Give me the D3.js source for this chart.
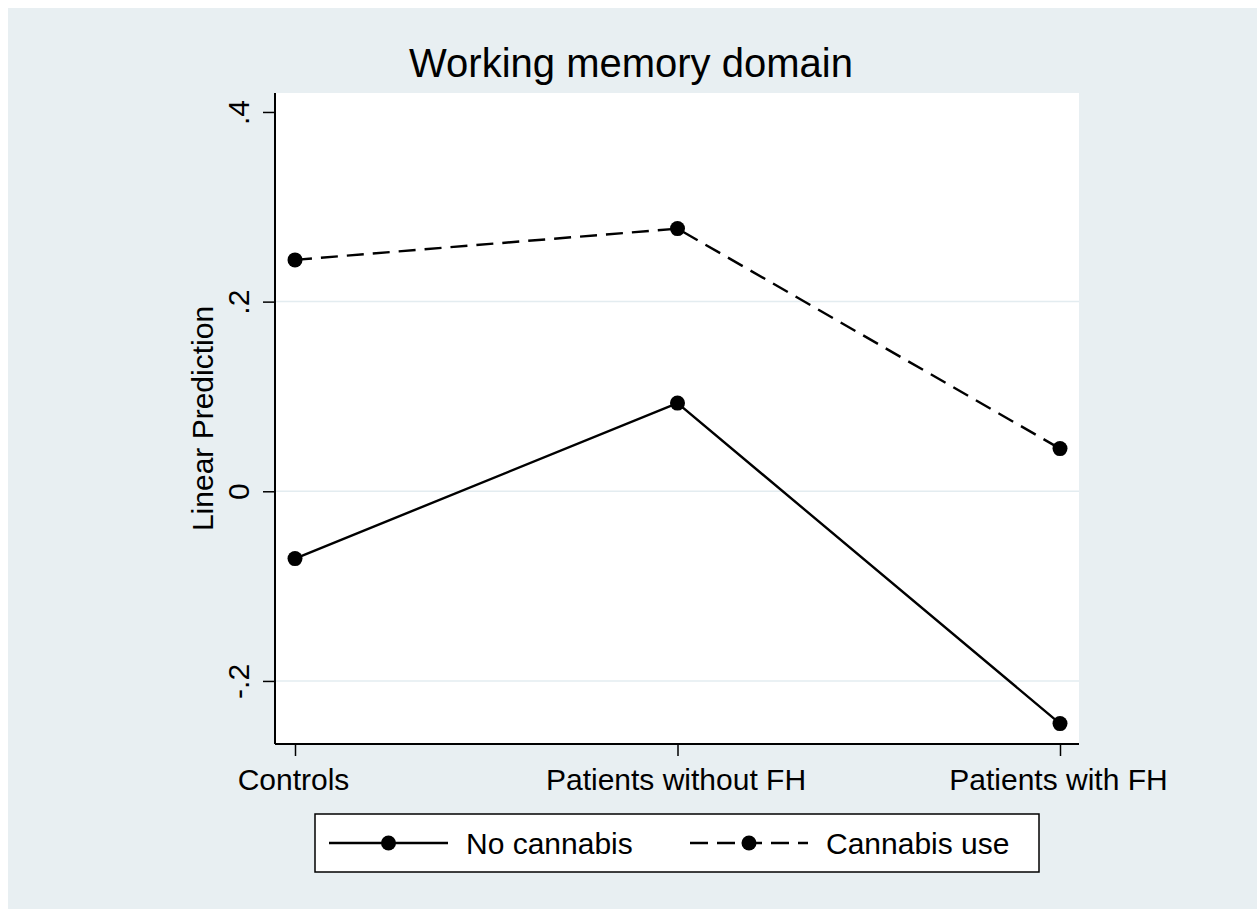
<!DOCTYPE html>
<html>
<head>
<meta charset="utf-8">
<script src="https://cdn.jsdelivr.net/npm/d3@7"></script>
<style>
  body { margin: 0; background: #ffffff; overflow: hidden; }
  text { font-family: "Liberation Sans", Arial, sans-serif; fill: #000; }
</style>
</head>
<body>
<script>
// Working memory domain - margins plot

const groups = ["Controls", "Patients without FH", "Patients with FH"];
const noCannabis = [-0.071, 0.093, -0.245];
const cannabisUse = [0.244, 0.277, 0.045];
const yTicks = [-0.2, 0, 0.2, 0.4];
const yTickLabels = ["-.2", "0", ".2", ".4"];
const gridTicks = [-0.2, 0, 0.2];

const outerWidth = 1257;
const outerHeight = 909;

// plot region (white box)
const plot = {left: 275, top: 93, right: 1079, bottom: 744};

const svg = d3.select("body").append("svg")
    .attr("width", outerWidth)
    .attr("height", outerHeight)
    .style("display", "block");

// graph region background
svg.append("rect")
    .attr("x", 8)
    .attr("y", 8)
    .attr("width", outerWidth - 8)
    .attr("height", outerHeight - 8)
    .style("fill", "#e8eff2");

svg.append("rect")
    .attr("x", plot.left)
    .attr("y", plot.top)
    .attr("width", plot.right - plot.left)
    .attr("height", plot.bottom - plot.top)
    .style("fill", "#ffffff");

const x = d3.scalePoint()
    .domain(groups)
    .range([295, 1060]);

const y = d3.scaleLinear()
    .domain([-0.2665, 0.42])
    .range([plot.bottom, plot.top]);

// grid lines
svg.append("g").selectAll("line")
    .data(gridTicks)
    .join("line")
    .attr("x1", plot.left)
    .attr("x2", plot.right)
    .attr("y1", d => y(d))
    .attr("y2", d => y(d))
    .style("stroke", "#e3ecf0")
    .style("stroke-width", 1.5);

// y axis
const yAxis = svg.append("g")
    .attr("transform", "translate(" + plot.left + ",0)")
    .call(d3.axisLeft(y)
        .tickValues(yTicks)
        .tickFormat((d, i) => yTickLabels[i])
        .tickSize(12)
        .tickSizeOuter(0));
yAxis.select(".domain")
    .attr("d", "M0," + plot.top + "V" + plot.bottom)
    .style("stroke", "#000")
    .style("stroke-width", 2);
yAxis.selectAll(".tick line").style("stroke", "#000").style("stroke-width", 1.5);
yAxis.selectAll(".tick text")
    .attr("x", 0)
    .attr("y", 0)
    .attr("dy", 0)
    .attr("transform", "translate(-26,0) rotate(-90)")
    .style("text-anchor", "middle")
    .style("font-size", "30px")
    .style("font-family", "Liberation Sans");

// x axis
const xAxis = svg.append("g")
    .attr("transform", "translate(0," + plot.bottom + ")")
    .call(d3.axisBottom(x)
        .tickSize(12)
        .tickSizeOuter(0));
xAxis.select(".domain")
    .attr("d", "M" + plot.left + ",0H" + plot.right)
    .style("stroke", "#000")
    .style("stroke-width", 2);
xAxis.selectAll(".tick line").style("stroke", "#000").style("stroke-width", 1.5);
xAxis.selectAll(".tick text")
    .attr("y", 46)
    .attr("dy", 0)
    .attr("dx", -2)
    .style("font-size", "30px")
    .style("font-family", "Liberation Sans");

// title
svg.append("text")
    .text("Working memory domain")
    .attr("x", (plot.left + plot.right) / 2 - 46)
    .attr("y", 77)
    .style("text-anchor", "middle")
    .style("font-size", "40px");

// y axis title
svg.append("text")
    .text("Linear Prediction")
    .attr("transform", "translate(213," + (plot.top + plot.bottom) / 2 + ") rotate(-90)")
    .style("text-anchor", "middle")
    .style("font-size", "30px");

// series lines
const line = d3.line()
    .x((d, i) => x(groups[i]))
    .y(d => y(d));

const series = [
  {name: "No cannabis", values: noCannabis, dash: null},
  {name: "Cannabis use", values: cannabisUse, dash: "17,9"}
];

series.forEach(s => {
  svg.append("path")
      .datum(s.values)
      .attr("d", line)
      .style("fill", "none")
      .style("stroke", "#000")
      .style("stroke-width", 2.4)
      .style("stroke-dasharray", s.dash);

  svg.append("g").selectAll("circle")
      .data(s.values)
      .join("circle")
      .attr("cx", (d, i) => x(groups[i]))
      .attr("cy", d => y(d))
      .attr("r", 7.5)
      .style("fill", "#000");
});

// legend
const legend = svg.append("g");
legend.append("rect")
    .attr("x", 315)
    .attr("y", 814)
    .attr("width", 724)
    .attr("height", 58)
    .style("fill", "#fff")
    .style("stroke", "#000")
    .style("stroke-width", 1.5);

const legendItems = [
  {x1: 329, x2: 448, textX: 466},
  {x1: 690, x2: 808, textX: 826}
];

series.forEach((s, i) => {
  const item = legendItems[i];
  legend.append("line")
      .attr("x1", item.x1)
      .attr("x2", item.x2)
      .attr("y1", 843)
      .attr("y2", 843)
      .style("stroke", "#000")
      .style("stroke-width", 2.4)
      .style("stroke-dasharray", s.dash ? "18,9" : null);
  legend.append("circle")
      .attr("cx", (item.x1 + item.x2) / 2)
      .attr("cy", 843)
      .attr("r", 7.5)
      .style("fill", "#000");
  legend.append("text")
      .text(s.name)
      .attr("x", item.textX)
      .attr("y", 854)
      .style("font-size", "30px");
});
</script>
</body>
</html>
